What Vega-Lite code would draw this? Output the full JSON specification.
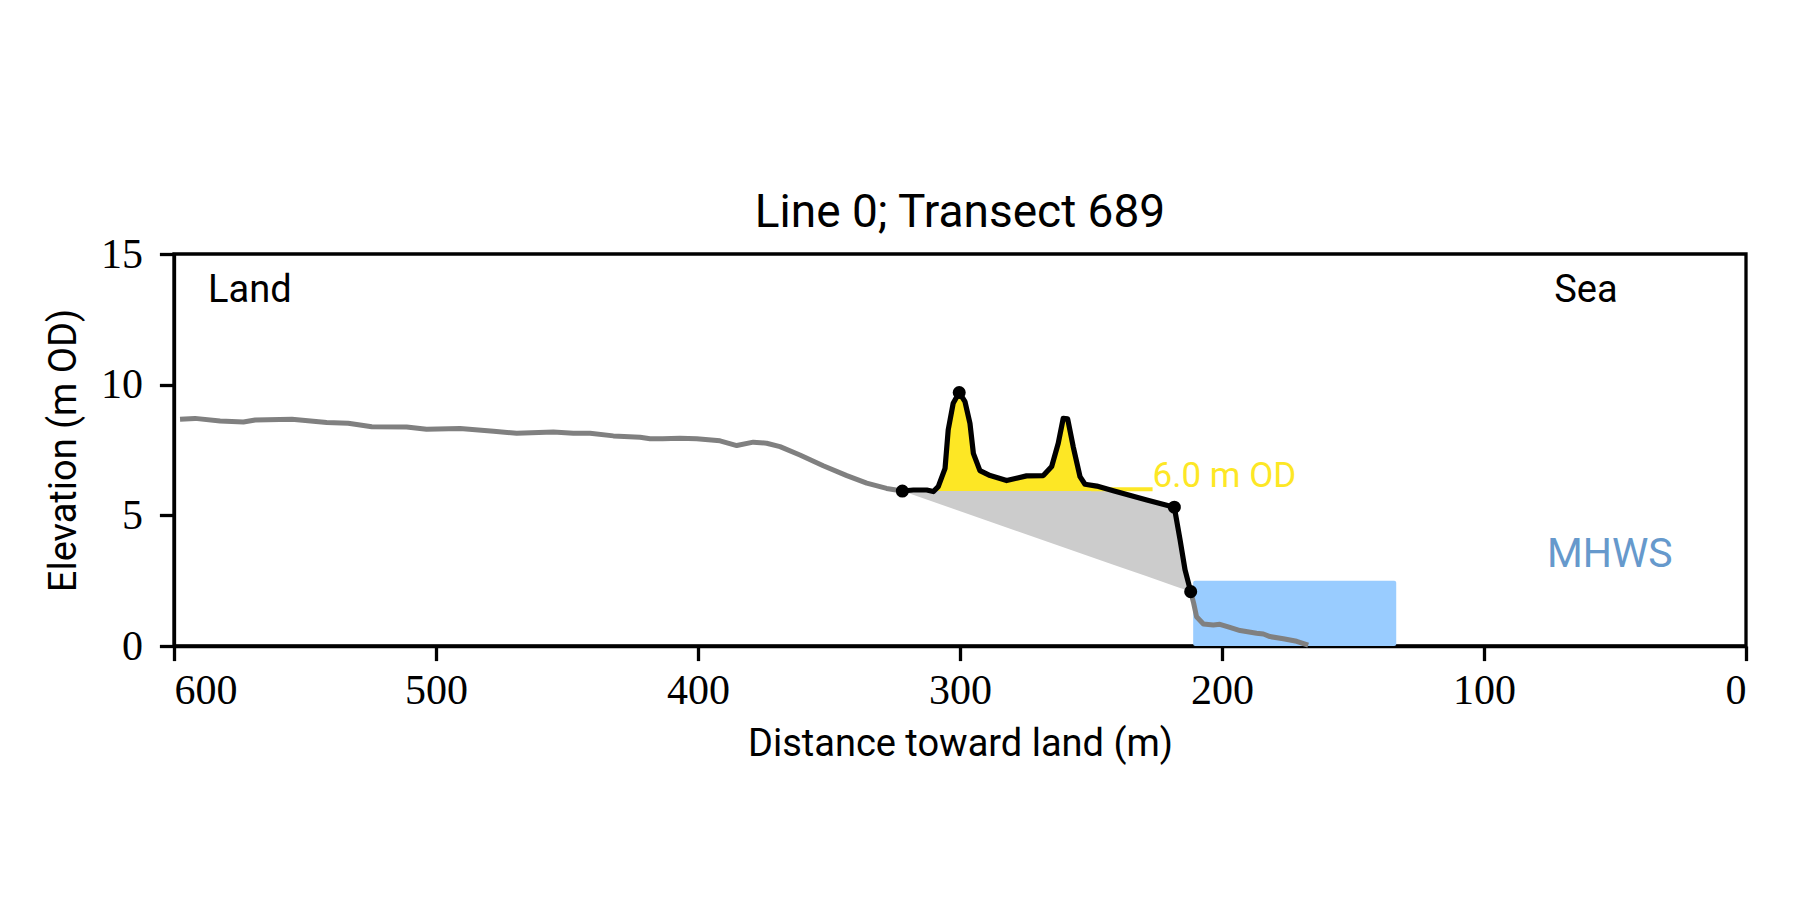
{
  "$schema": "https://vega.github.io/schema/vega-lite/v6.json",
  "width": 1572,
  "height": 392,
  "autosize": {"type": "none"},
  "padding": {"left": 174, "top": 254, "right": 54, "bottom": 254},
  "background": "white",
  "title": {"text": "Line 0; Transect 689", "font": "Roboto", "fontSize": 46, "fontWeight": "normal", "color": "black", "anchor": "middle", "baseline": "alphabetic", "offset": -40},
  "config": {
    "view": {"stroke": "black", "strokeWidth": 3.3},
    "axis": {"domainColor": "black", "domainWidth": 3.3, "tickColor": "black", "tickWidth": 3.3, "tickSize": 14.6, "grid": false, "labelFont": "Liberation Serif", "labelFontSize": 42, "labelColor": "black", "titleFont": "Roboto", "titleFontSize": 38, "titleFontWeight": "normal", "titleColor": "black"}
  },
  "datasets": {
    "profile": [
      {"part": "land", "d": 597.7, "elev": 8.68},
      {"part": "land", "d": 592, "elev": 8.71},
      {"part": "land", "d": 582.4, "elev": 8.61},
      {"part": "land", "d": 573.5, "elev": 8.57},
      {"part": "land", "d": 569, "elev": 8.65},
      {"part": "land", "d": 555, "elev": 8.68},
      {"part": "land", "d": 541.7, "elev": 8.55},
      {"part": "land", "d": 533.5, "elev": 8.52},
      {"part": "land", "d": 524.5, "elev": 8.39},
      {"part": "land", "d": 511.2, "elev": 8.38},
      {"part": "land", "d": 503.6, "elev": 8.29},
      {"part": "land", "d": 490.8, "elev": 8.32},
      {"part": "land", "d": 478, "elev": 8.22},
      {"part": "land", "d": 469.2, "elev": 8.14},
      {"part": "land", "d": 455.2, "elev": 8.19},
      {"part": "land", "d": 447.6, "elev": 8.14},
      {"part": "land", "d": 441.2, "elev": 8.14},
      {"part": "land", "d": 432.3, "elev": 8.04},
      {"part": "land", "d": 422.1, "elev": 7.99},
      {"part": "land", "d": 418.3, "elev": 7.93},
      {"part": "land", "d": 413.5, "elev": 7.93},
      {"part": "land", "d": 406.9, "elev": 7.95},
      {"part": "land", "d": 400.5, "elev": 7.93},
      {"part": "land", "d": 391.6, "elev": 7.85},
      {"part": "land", "d": 385.2, "elev": 7.67},
      {"part": "land", "d": 378.9, "elev": 7.8},
      {"part": "land", "d": 373.8, "elev": 7.76},
      {"part": "land", "d": 368.7, "elev": 7.63},
      {"part": "land", "d": 361.1, "elev": 7.31},
      {"part": "land", "d": 352.2, "elev": 6.9},
      {"part": "land", "d": 343.2, "elev": 6.52},
      {"part": "land", "d": 335.6, "elev": 6.23},
      {"part": "land", "d": 328, "elev": 6.03},
      {"part": "land", "d": 322, "elev": 5.93},
      {"part": "sea", "d": 211.95, "elev": 2.08},
      {"part": "sea", "d": 210.8, "elev": 1.63},
      {"part": "sea", "d": 209.7, "elev": 1.12},
      {"part": "sea", "d": 207.1, "elev": 0.84},
      {"part": "sea", "d": 203.3, "elev": 0.8},
      {"part": "sea", "d": 200.8, "elev": 0.83},
      {"part": "sea", "d": 197, "elev": 0.71},
      {"part": "sea", "d": 193.1, "elev": 0.59},
      {"part": "sea", "d": 186.8, "elev": 0.49},
      {"part": "sea", "d": 184.2, "elev": 0.46},
      {"part": "sea", "d": 181.7, "elev": 0.36},
      {"part": "sea", "d": 176.6, "elev": 0.28},
      {"part": "sea", "d": 171.5, "elev": 0.18},
      {"part": "sea", "d": 167.1, "elev": 0.03}
    ],
    "dune": [
      {"d": 322, "elev": 5.93},
      {"d": 317.8, "elev": 5.97},
      {"d": 312.7, "elev": 5.97},
      {"d": 310.2, "elev": 5.91},
      {"d": 308.3, "elev": 6.1},
      {"d": 305.7, "elev": 6.8},
      {"d": 304.5, "elev": 8.27},
      {"d": 302.6, "elev": 9.29},
      {"d": 300.3, "elev": 9.7},
      {"d": 298.1, "elev": 9.35},
      {"d": 296.2, "elev": 8.52},
      {"d": 294.9, "elev": 7.37},
      {"d": 292.4, "elev": 6.71},
      {"d": 288.5, "elev": 6.52},
      {"d": 282.2, "elev": 6.33},
      {"d": 274.6, "elev": 6.51},
      {"d": 268.2, "elev": 6.52},
      {"d": 265, "elev": 6.87},
      {"d": 262.5, "elev": 7.76},
      {"d": 260.6, "elev": 8.71},
      {"d": 258.9, "elev": 8.69},
      {"d": 256.8, "elev": 7.63},
      {"d": 254.2, "elev": 6.48},
      {"d": 252.3, "elev": 6.19},
      {"d": 247.8, "elev": 6.12},
      {"d": 241.5, "elev": 5.94},
      {"d": 228.7, "elev": 5.59},
      {"d": 218.2, "elev": 5.31},
      {"d": 216, "elev": 4.06},
      {"d": 214.1, "elev": 2.91},
      {"d": 211.95, "elev": 2.08}
    ],
    "keypoints": [
      {"d": 322, "elev": 5.93},
      {"d": 300.3, "elev": 9.7},
      {"d": 218.2, "elev": 5.31},
      {"d": 211.95, "elev": 2.08}
    ],
    "sandfill": [
      {"d": 322, "elev": 5.93, "top": 5.93},
      {"d": 310, "elev": 5.51, "top": 5.93},
      {"d": 241.2, "elev": 3.1, "top": 5.93},
      {"d": 228.7, "elev": 2.67, "top": 5.59},
      {"d": 218.2, "elev": 2.3, "top": 5.31},
      {"d": 216, "elev": 2.22, "top": 4.06},
      {"d": 214.1, "elev": 2.16, "top": 2.91},
      {"d": 211.95, "elev": 2.08, "top": 2.08}
    ],
    "dunefill": [
      {"d": 309.8, "elev": 5.93, "base": 5.93},
      {"d": 308.3, "elev": 6.1, "base": 5.93},
      {"d": 305.7, "elev": 6.8, "base": 5.93},
      {"d": 304.5, "elev": 8.27, "base": 5.93},
      {"d": 302.6, "elev": 9.29, "base": 5.93},
      {"d": 300.3, "elev": 9.7, "base": 5.93},
      {"d": 298.1, "elev": 9.35, "base": 5.93},
      {"d": 296.2, "elev": 8.52, "base": 5.93},
      {"d": 294.9, "elev": 7.37, "base": 5.93},
      {"d": 292.4, "elev": 6.71, "base": 5.93},
      {"d": 288.5, "elev": 6.52, "base": 5.93},
      {"d": 282.2, "elev": 6.33, "base": 5.93},
      {"d": 274.6, "elev": 6.51, "base": 5.93},
      {"d": 268.2, "elev": 6.52, "base": 5.93},
      {"d": 265, "elev": 6.87, "base": 5.93},
      {"d": 262.5, "elev": 7.76, "base": 5.93},
      {"d": 260.6, "elev": 8.71, "base": 5.93},
      {"d": 258.9, "elev": 8.69, "base": 5.93},
      {"d": 256.8, "elev": 7.63, "base": 5.93},
      {"d": 254.2, "elev": 6.48, "base": 5.93},
      {"d": 252.3, "elev": 6.19, "base": 5.93},
      {"d": 247.8, "elev": 6.12, "base": 5.93},
      {"d": 241.2, "elev": 5.93, "base": 5.93}
    ],
    "mhws": [
      {"d": 211, "d_end": 133.5, "elev": 0, "level": 2.5}
    ],
    "threshold": [
      {"d": 250, "d_end": 226.5, "elev": 6.0}
    ]
  },
  "encoding": {
    "x": {"field": "d", "type": "quantitative", "scale": {"domain": [600, 0], "nice": false}, "axis": {"values": [600, 500, 400, 300, 200, 100, 0], "title": "Distance toward land (m)", "labelPadding": 10, "titlePadding": 14}},
    "y": {"field": "elev", "type": "quantitative", "scale": {"domain": [0, 15], "nice": false}, "axis": {"values": [0, 5, 10, 15], "title": "Elevation (m OD)", "labelPadding": 17, "titlePadding": 17}}
  },
  "layer": [
    {
      "data": {"name": "mhws"},
      "mark": {"type": "rect", "color": "#99ccff", "cornerRadius": 2},
      "encoding": {"x2": {"field": "d_end"}, "y2": {"field": "level"}}
    },
    {
      "data": {"name": "sandfill"},
      "mark": {"type": "area", "color": "#cccccc", "opacity": 1},
      "encoding": {"y2": {"field": "top"}}
    },
    {
      "data": {"name": "dunefill"},
      "mark": {"type": "area", "color": "#fde725", "opacity": 1},
      "encoding": {"y2": {"field": "base"}}
    },
    {
      "data": {"name": "threshold"},
      "mark": {"type": "rule", "color": "#fde725", "strokeWidth": 4},
      "encoding": {"x2": {"field": "d_end"}}
    },
    {
      "data": {"name": "profile"},
      "mark": {"type": "line", "color": "#808080", "strokeWidth": 5, "strokeJoin": "round"},
      "encoding": {"detail": {"field": "part"}}
    },
    {
      "data": {"name": "dune"},
      "mark": {"type": "line", "color": "black", "strokeWidth": 5.2, "strokeJoin": "round"},
      "encoding": {}
    },
    {
      "data": {"name": "keypoints"},
      "mark": {"type": "point", "filled": true, "color": "black", "size": 170, "opacity": 1},
      "encoding": {}
    },
    {
      "data": {"values": [{"label": "Land", "d": 587, "elev": 13.18}]},
      "mark": {"type": "text", "font": "Roboto", "fontSize": 38, "color": "black", "align": "left", "baseline": "alphabetic"},
      "encoding": {"text": {"field": "label"}}
    },
    {
      "data": {"values": [{"label": "Sea", "d": 49, "elev": 13.18}]},
      "mark": {"type": "text", "font": "Roboto", "fontSize": 38, "color": "black", "align": "right", "baseline": "alphabetic"},
      "encoding": {"text": {"field": "label"}}
    },
    {
      "data": {"values": [{"label": "MHWS", "d": 52, "elev": 3.03}]},
      "mark": {"type": "text", "font": "Roboto", "fontSize": 41, "color": "#6699cc", "align": "center", "baseline": "alphabetic"},
      "encoding": {"text": {"field": "label"}}
    },
    {
      "data": {"values": [{"label": "6.0 m OD", "d": 226.5, "elev": 6.07}]},
      "mark": {"type": "text", "font": "Roboto", "fontSize": 35, "color": "#fde725", "align": "left", "baseline": "alphabetic"},
      "encoding": {"text": {"field": "label"}}
    }
  ]
}
